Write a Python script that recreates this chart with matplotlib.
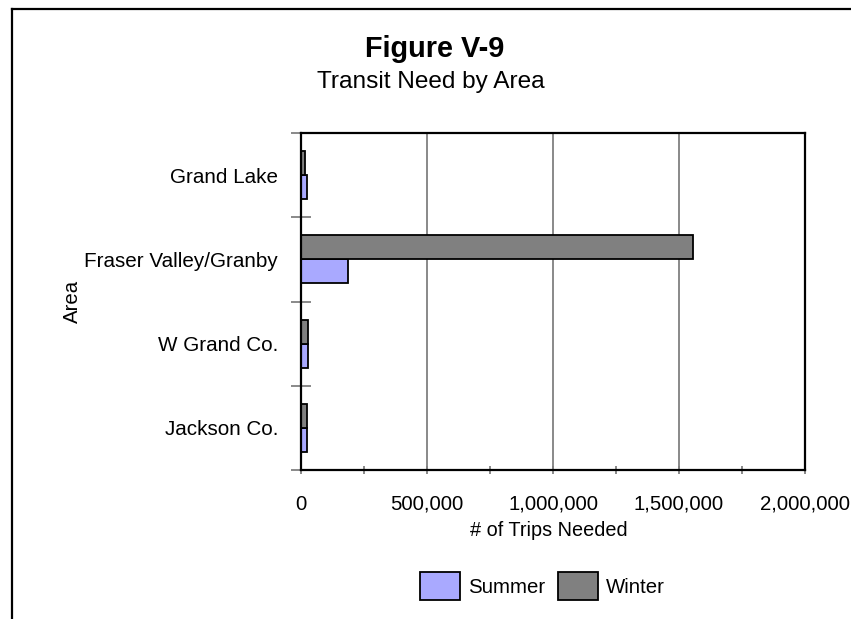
import matplotlib
matplotlib.use("Agg")
import matplotlib.pyplot as plt
import numpy as np
from matplotlib.lines import Line2D
from matplotlib.ticker import MultipleLocator, FuncFormatter

plt.rcParams['font.family'] = ['Liberation Sans', 'DejaVu Sans']

areas = ["Grand Lake", "Fraser Valley/Granby", "W Grand Co.", "Jackson Co."]
summer = [22000, 185000, 29000, 22000]
winter = [17000, 1557000, 29000, 22000]
series_names = ["Summer", "Winter"]
xticks = [0, 500000, 1000000, 1500000, 2000000]

W, H = 851, 619
fig = plt.figure(figsize=(W/100, H/100), dpi=100)
ax = fig.add_axes([301/W, 1-470/H, (805-301)/W, (470-133)/H])

y = np.arange(len(areas))
bh = 0.285
ax.barh(y + bh/2, summer, height=bh, color="#A9A9FF", edgecolor="black", linewidth=1.3, label=series_names[0], zorder=3)
ax.barh(y - bh/2, winter, height=bh, color="#808080", edgecolor="black", linewidth=1.3, label=series_names[1], zorder=3)

ax.set_ylim(len(areas)-0.5, -0.5)
ax.set_xlim(0, 2000000)
ax.set_yticks(y)
ax.set_yticklabels(areas, fontsize=14.9)
ax.set_yticks(np.arange(-0.5, len(areas), 1), minor=True)
ax.tick_params(axis='y', which='major', length=0, pad=16.5)
ax.tick_params(axis='y', which='minor', length=14, direction='inout', color='#808080', width=1.3)

ax.set_xticks(xticks)
ax.xaxis.set_major_formatter(FuncFormatter(lambda v, p: f"{int(v):,}"))
ax.xaxis.set_minor_locator(MultipleLocator(250000))
ax.tick_params(axis='x', which='both', length=6, direction='inout', color='#808080', width=1.3, labelsize=14.7, pad=15)
ax.grid(axis='x', which='major', color='#808080', linewidth=1.3, zorder=0)
for s in ax.spines.values():
    s.set_linewidth(1.6)
    s.set_color('black')
    s.set_zorder(4)

fig.text(435/W, 1-57/H, "Figure V-9", ha='center', va='baseline', fontsize=20.8, fontweight='bold')
fig.text(431/W, 1-88/H, "Transit Need by Area", ha='center', va='baseline', fontsize=17.6)
fig.text(549/W, 1-530/H, "# of Trips Needed", ha='center', va='center', fontsize=14.3)
fig.text(72/W, 1-301/H, "Area", ha='center', va='center', rotation=90, fontsize=14.7)

handles, labels = ax.get_legend_handles_labels()
leg = fig.legend(handles, labels, loc='center', bbox_to_anchor=(542.5/W, 1-586/H), ncol=2, frameon=False,
                 fontsize=14.7, handlelength=1.96, handleheight=1.67, handletextpad=0.42, columnspacing=0.6)

fig.add_artist(Line2D([11.5/W, 1.0], [1-9/H, 1-9/H], transform=fig.transFigure, color='black', linewidth=1.6))
fig.add_artist(Line2D([11.5/W, 11.5/W], [1-9/H, 0], transform=fig.transFigure, color='black', linewidth=1.6))

fig.savefig("out.png", dpi=100)
